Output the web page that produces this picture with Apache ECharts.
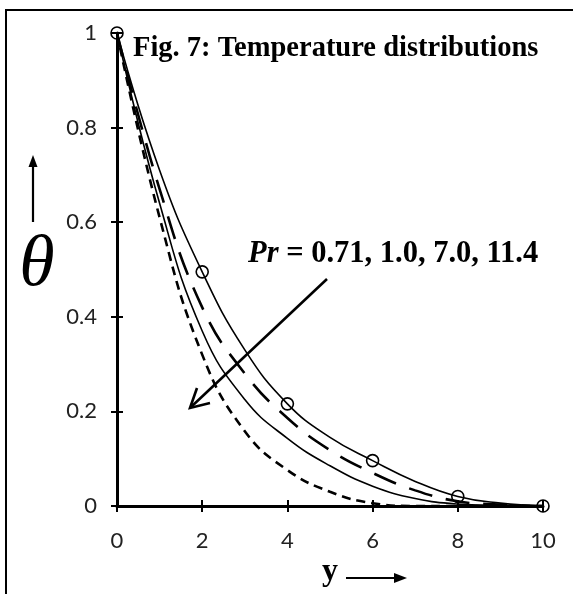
<!DOCTYPE html>
<html>
<head>
<meta charset="utf-8">
<script src="https://cdn.jsdelivr.net/npm/echarts@6/dist/echarts.min.js"></script>
<style>
html,body{margin:0;padding:0;background:#fff;}
#chart{width:573px;height:594px;}
</style>
</head>
<body>
<div id="chart"></div>
<script>
// ---- data ----
const yPositions = [0, 1, 2, 3, 4, 5, 6, 7, 8, 9, 10];
const thetaPr071 = [1, 0.71, 0.495, 0.33, 0.216, 0.145, 0.096, 0.052, 0.02, 0.006, 0];
const thetaPr10  = [1, 0.67, 0.42, 0.28, 0.186, 0.118, 0.07, 0.033, 0.01, 0.003, 0];
const thetaPr70  = [1, 0.64, 0.37, 0.225, 0.143, 0.085, 0.042, 0.016, 0.004, 0.001, 0];
const thetaPr114 = [1, 0.61, 0.32, 0.158, 0.076, 0.03, 0.006, 0, 0, 0, 0];
const markedPositions = [0, 2, 4, 6, 8, 10];
const xTickStep = 2;
const yTickStep = 0.2;
const titleText = 'Fig. 7: Temperature distributions';
const prValues = '0.71, 1.0, 7.0, 11.4';

function pairs(vals, marked) {
  return yPositions.map((x, i) => {
    const item = { value: [x, vals[i]] };
    if (marked) item.symbol = markedPositions.indexOf(x) >= 0 ? 'circle' : 'none';
    return item;
  });
}

const chart = echarts.init(document.getElementById('chart'));
const labelFont = { fontFamily: 'Lato', fontSize: 22, color: '#222' };
const serif = 'Liberation Serif';

const baseLine = { type: 'line', smooth: 0.45, showSymbol: false, symbol: 'none', z: 3, animation: false };

chart.setOption({
  animation: false,
  grid: { left: 117, right: 30, top: 33, bottom: 88, containLabel: false },
  xAxis: [
    { type: 'value', min: 0, max: 10, interval: xTickStep,
      axisLine: { show: true, onZero: false, lineStyle: { color: '#000', width: 3 } },
      axisTick: { show: true, length: 6, lineStyle: { color: '#000', width: 2 } },
      axisLabel: Object.assign({ margin: 24 }, labelFont),
      splitLine: { show: false } },
    { type: 'value', min: 0, max: 10, interval: xTickStep, position: 'bottom',
      axisLine: { show: false },
      axisTick: { show: true, inside: true, length: 6, lineStyle: { color: '#000', width: 2 } },
      axisLabel: { show: false }, splitLine: { show: false } }
  ],
  yAxis: [
    { type: 'value', min: 0, max: 1, interval: yTickStep,
      axisLine: { show: true, onZero: false, lineStyle: { color: '#000', width: 3 } },
      axisTick: { show: true, length: 6, lineStyle: { color: '#000', width: 2 } },
      axisLabel: Object.assign({ margin: 20 }, labelFont),
      splitLine: { show: false } },
    { type: 'value', min: 0, max: 1, interval: yTickStep, position: 'left',
      axisLine: { show: false },
      axisTick: { show: true, inside: true, length: 6, lineStyle: { color: '#000', width: 2 } },
      axisLabel: { show: false }, splitLine: { show: false } }
  ],
  series: [
    Object.assign({}, baseLine, { name: 'Pr=0.71', data: pairs(thetaPr071, true), showSymbol: true, symbolSize: 12,
      itemStyle: { color: 'rgba(0,0,0,0)', borderColor: '#000', borderWidth: 1.6 },
      lineStyle: { color: '#000', width: 1.6 } }),
    Object.assign({}, baseLine, { name: 'Pr=1.0', data: pairs(thetaPr10, false),
      lineStyle: { color: '#000', width: 2.6, type: [24, 14] } }),
    Object.assign({}, baseLine, { name: 'Pr=7.0', data: pairs(thetaPr70, false),
      lineStyle: { color: '#000', width: 1.6 } }),
    Object.assign({}, baseLine, { name: 'Pr=11.4', data: pairs(thetaPr114, false),
      lineStyle: { color: '#000', width: 2.6, type: [9, 6] } })
  ],
  graphic: [
    { type: 'rect', shape: { x: 6, y: 10, width: 620, height: 620 }, style: { fill: 'none', stroke: '#000', lineWidth: 2 }, silent: true },
    { type: 'text', x: 133, y: 49, style: { text: titleText, fontFamily: serif, fontWeight: 'bold', fontSize: 28.5, fill: '#000', verticalAlign: 'middle' } },
    { type: 'text', x: 248, y: 254, style: {
        text: '{a|Pr}{b| = ' + prValues + '}',
        verticalAlign: 'middle',
        rich: {
          a: { fontFamily: serif, fontWeight: 'bold', fontStyle: 'italic', fontSize: 30.5, fill: '#000' },
          b: { fontFamily: serif, fontWeight: 'bold', fontSize: 30.5, fill: '#000' }
        } } },
    { type: 'line', shape: { x1: 327, y1: 279, x2: 191, y2: 407 }, style: { stroke: '#000', lineWidth: 2.6 } },
    { type: 'polyline', shape: { points: [[197, 388], [190, 408], [210, 403]] }, style: { stroke: '#000', lineWidth: 2.6, fill: 'none' } },
    { type: 'text', x: 37, y: 266, style: { text: 'θ', fontFamily: serif, fontStyle: 'italic', fontSize: 72, fill: '#000', align: 'center', verticalAlign: 'middle' } },
    { type: 'line', shape: { x1: 33, y1: 222, x2: 33, y2: 162 }, style: { stroke: '#000', lineWidth: 2.2 } },
    { type: 'polygon', shape: { points: [[33, 155], [28.5, 167], [37.5, 167]] }, style: { fill: '#000' } },
    { type: 'text', x: 330, y: 572, style: { text: 'y', fontFamily: serif, fontWeight: 'bold', fontSize: 32, fill: '#000', align: 'center', verticalAlign: 'middle' } },
    { type: 'line', shape: { x1: 346, y1: 578, x2: 404, y2: 578 }, style: { stroke: '#000', lineWidth: 2.2 } },
    { type: 'polygon', shape: { points: [[407, 578], [394, 573], [394, 583]] }, style: { fill: '#000' } }
  ]
});
</script>
</body>
</html>
